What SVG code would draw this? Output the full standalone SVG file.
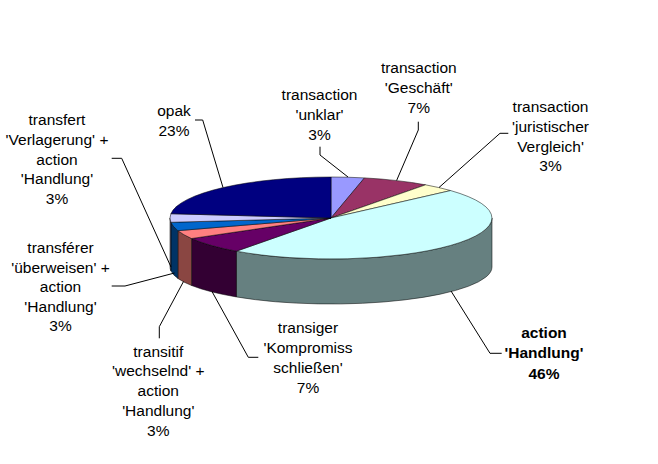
<svg xmlns="http://www.w3.org/2000/svg" width="658" height="464" viewBox="0 0 658 464">
<style>
text{font-family:"Liberation Sans",Arial,sans-serif;font-size:15.5px;fill:#000;text-anchor:middle}
.b{font-weight:bold}
.f{stroke:#000;stroke-width:0.6;stroke-opacity:0.85;stroke-linejoin:round}
.ld{fill:none;stroke:#000;stroke-width:1}
</style>
<rect width="658" height="464" fill="#fff"/>
<g id="pie">
<g id="sides">
<path class="f" fill="#668080" d="M492 218 A161 41 0 0 1 236.37 251.17 L236.37 296.93 A161 37 0 0 0 492 267 Z"/>
<path class="f" fill="#330033" d="M236.37 251.17 A161 41 0 0 1 191.57 238.5 L191.57 285.5 A161 37 0 0 0 236.37 296.93 Z"/>
<path class="f" fill="#8a4642" d="M191.57 238.5 A161 41 0 0 1 177.88 230.67 L177.88 278.43 A161 37 0 0 0 191.57 285.5 Z"/>
<path class="f" fill="#003366" d="M177.88 230.67 A161 41 0 0 1 170.88 222.29 L170.88 270.87 A161 37 0 0 0 177.88 278.43 Z"/>
<path class="f" fill="#666680" d="M170.88 222.29 A161 41 0 0 1 170 218 L170 267 A161 37 0 0 0 170.88 270.87 Z"/>
</g>
<g id="slice-unklar"><path class="f" fill="#9999FF" d="M331 218 L331 177 A161 41 0 0 1 364.47 177.9 Z"/></g>
<g id="slice-geschaeft"><path class="f" fill="#993366" d="M331 218 L364.47 177.9 A161 41 0 0 1 425.63 184.83 Z"/></g>
<g id="slice-vergleich"><path class="f" fill="#FFFFCC" d="M331 218 L425.63 184.83 A161 41 0 0 1 450.64 190.57 Z"/></g>
<g id="slice-handlung"><path class="f" fill="#CCFFFF" d="M331 218 L450.64 190.57 A161 41 0 0 1 236.37 251.17 Z"/></g>
<g id="slice-transiger"><path class="f" fill="#660066" d="M331 218 L236.37 251.17 A161 41 0 0 1 191.57 238.5 Z"/></g>
<g id="slice-transitif"><path class="f" fill="#FF8080" d="M331 218 L191.57 238.5 A161 41 0 0 1 177.88 230.67 Z"/></g>
<g id="slice-transferer"><path class="f" fill="#0066CC" d="M331 218 L177.88 230.67 A161 41 0 0 1 170.88 222.29 Z"/></g>
<g id="slice-transfert"><path class="f" fill="#CCCCFF" d="M331 218 L170.88 222.29 A161 41 0 0 1 170.88 213.71 Z"/></g>
<g id="slice-opak"><path class="f" fill="#000080" d="M331 218 L170.88 213.71 A161 41 0 0 1 331 177 Z"/></g>
</g>
<g id="connectors">
<path class="ld" d="M195 120 H202.7 L223 187.5"/>
<path class="ld" d="M320 146.7 V155 L348 177"/>
<path class="ld" d="M418.3 121.7 V130 L396.6 180.5"/>
<path class="ld" d="M508.3 133.3 H500 L439 187.5"/>
<path class="ld" d="M501.7 353.3 H490 L451 291"/>
<path class="ld" d="M258.3 357.3 H248.3 L212 291.5"/>
<path class="ld" d="M159.3 338.3 V326.7 L183.5 281.5"/>
<path class="ld" d="M111.7 286 H125 L174.5 273"/>
<path class="ld" d="M111.7 158.3 H121.7 L171 267"/>
</g>
<g id="label-opak"><text x="174" y="116">opak</text><text x="174" y="136">23%</text></g>
<g id="label-unklar"><text x="319.5" y="100">transaction</text><text x="319.5" y="120">'unklar'</text><text x="319.5" y="140">3%</text></g>
<g id="label-geschaeft"><text x="418.8" y="73">transaction</text><text x="418.8" y="93">'Geschäft'</text><text x="418.8" y="113">7%</text></g>
<g id="label-vergleich"><text x="550.5" y="112">transaction</text><text x="550.5" y="132">'juristischer</text><text x="550.5" y="151.5">Vergleich'</text><text x="550.5" y="171">3%</text></g>
<g id="label-transfert"><text x="57" y="125">transfert</text><text x="57" y="145">'Verlagerung' +</text><text x="57" y="164.5">action</text><text x="57" y="184">'Handlung'</text><text x="57" y="204">3%</text></g>
<g id="label-transferer"><text x="60.5" y="253">transférer</text><text x="60.5" y="272.5">'überweisen' +</text><text x="60.5" y="292">action</text><text x="60.5" y="311.5">'Handlung'</text><text x="60.5" y="331">3%</text></g>
<g id="label-transitif"><text x="158.3" y="356.5">transitif</text><text x="158.3" y="376">'wechselnd' +</text><text x="158.3" y="396">action</text><text x="158.3" y="415.5">'Handlung'</text><text x="158.3" y="435.5">3%</text></g>
<g id="label-transiger"><text x="308" y="333">transiger</text><text x="308" y="353">'Kompromiss</text><text x="308" y="373">schließen'</text><text x="308" y="393">7%</text></g>
<g id="label-handlung"><text class="b" x="544" y="338">action</text><text class="b" x="544" y="358">'Handlung'</text><text class="b" x="544" y="379">46%</text></g>
</svg>
